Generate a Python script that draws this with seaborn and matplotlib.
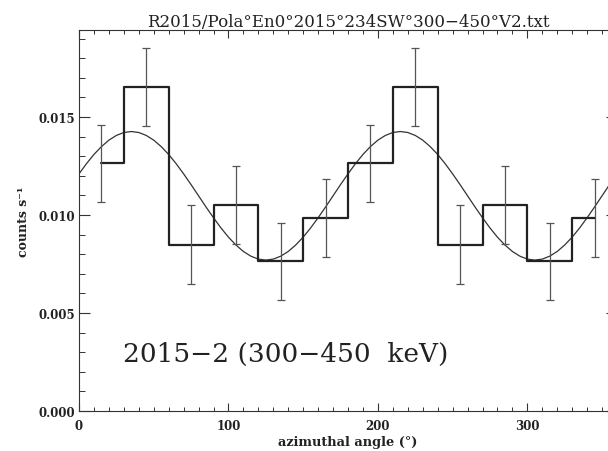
import numpy as np
import matplotlib
matplotlib.use("Agg")
import matplotlib.pyplot as plt
from matplotlib.ticker import MultipleLocator, FormatStrFormatter
import seaborn as sns

# Binned counts (IDL-style histogram, bin centres every 30 deg)
angles = [15, 45, 75, 105, 135, 165, 195, 225, 255, 285, 315, 345]
counts = [0.01264, 0.01653, 0.00849, 0.01052, 0.00764, 0.00986,
          0.01264, 0.01653, 0.00849, 0.01052, 0.00764, 0.00986]
errors = [0.00196, 0.00199, 0.00201, 0.00200, 0.00196, 0.00198,
          0.00196, 0.00199, 0.00201, 0.00200, 0.00196, 0.00198]

# Modulation curve every 5 deg (one 180 deg period, repeats)
curve_period = [0.01210, 0.01262, 0.01309, 0.01349, 0.01382, 0.01406,
                0.01421, 0.01426, 0.01421, 0.01406, 0.01382, 0.01349,
                0.01309, 0.01262, 0.01210, 0.01155, 0.01098, 0.01041,
                0.00986, 0.00934, 0.00887, 0.00847, 0.00814, 0.00790,
                0.00775, 0.00770, 0.00775, 0.00790, 0.00814, 0.00847,
                0.00887, 0.00934, 0.00986, 0.01041, 0.01098, 0.01155]
curve_counts = curve_period + curve_period + [curve_period[0]]
curve_angles = list(range(0, 361, 5))

title = "R2015/Pola°En0°2015°234SW°300\u2212450°V2.txt"
label_text = "2015\u22122 (300\u2212450  keV)"

sns.set_style("ticks")
plt.rcParams['font.family'] = ['DejaVu Serif']

fig = plt.figure(figsize=(6.08, 4.52), dpi=100)
ax = fig.add_axes([79 / 608, 40 / 452, 538 / 608, 381 / 452])

sns.lineplot(x=curve_angles, y=curve_counts, ax=ax, color='#333333', linewidth=0.9)
sns.lineplot(x=angles, y=counts, ax=ax, drawstyle='steps-mid', color='#222222', linewidth=1.6)
ax.errorbar(angles, counts, yerr=errors, fmt='none', ecolor='#555555',
            elinewidth=0.9, capsize=3.2, capthick=0.9)

ax.set_xlim(0, 360)
ax.set_ylim(0, 0.01944)

ax.xaxis.set_major_locator(MultipleLocator(100))
ax.xaxis.set_minor_locator(MultipleLocator(10))
ax.yaxis.set_major_locator(MultipleLocator(0.005))
ax.yaxis.set_minor_locator(MultipleLocator(0.001))
ax.yaxis.set_major_formatter(FormatStrFormatter('%.3f'))

ax.tick_params(axis='both', which='both', direction='in', top=True, right=True,
               color='#333333', labelcolor='#222222', labelsize=8.5)
ax.tick_params(axis='x', which='major', length=5.5, width=0.8, pad=6)
ax.tick_params(axis='x', which='minor', length=2.8, width=0.7)
ax.tick_params(axis='y', which='major', length=8, width=0.8, pad=3)
ax.tick_params(axis='y', which='minor', length=4.3, width=0.7)
for lab in ax.get_xticklabels() + ax.get_yticklabels():
    lab.set_fontweight('bold')

for sp in ax.spines.values():
    sp.set_linewidth(0.8)
    sp.set_color('#333333')

ax.set_title(title, fontsize=12, color='#222222', pad=3)
ax.set_xlabel("azimuthal angle (°)", fontsize=9.3, fontweight='bold', color='#222222', labelpad=2)
ax.set_ylabel("counts s\u207b\u00b9", fontsize=9, fontweight='bold', color='#222222', labelpad=6)

ax.text(29.5, 0.00296, label_text, fontsize=19, color='#222222', va='center', ha='left')

fig.savefig("out.png", dpi=100)
